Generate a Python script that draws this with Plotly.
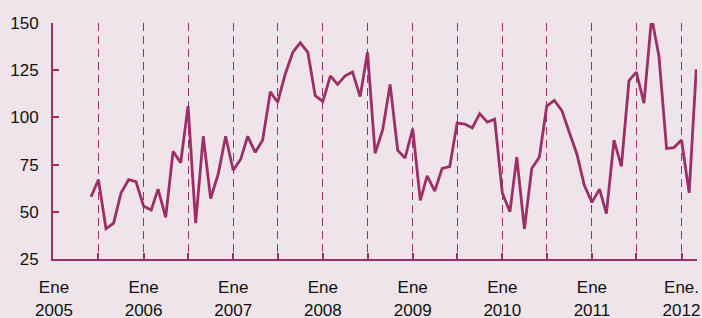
import plotly.graph_objects as go
import pandas as pd

# Monthly index values, June 2005 .. March 2012
start_month = "2005-06-01"
values = [
    58, 67, 41, 44, 60, 67, 66, 53, 51, 62, 47, 82, 76, 106,
    44, 90, 57, 70, 90, 72, 78, 90, 81.5, 88, 113.5, 108, 123, 134.5,
    139.5, 134.5, 111.5, 108.5, 122, 117.5, 122, 124, 111, 134.5, 81, 93.5, 117.5,
    82.5, 78.5, 94, 56, 69, 61, 73, 74, 97, 96.5, 94.5, 102, 97.5, 99,
    60, 50, 79, 41, 73, 79, 106, 109, 103.5, 92, 80.5, 64, 55, 62,
    49, 88, 74, 119.5, 124, 107.5, 153, 132.5, 83.5, 84, 88, 60, 125.5,
]
dates = pd.date_range(start_month, periods=len(values), freq="MS")

tick_dates = pd.date_range("2005-01-01", "2012-01-01", freq="6MS")
tick_labels = ["Ene<br>2005", "", "Ene<br>2006", "", "Ene<br>2007", "", "Ene<br>2008", "",
               "Ene<br>2009", "", "Ene<br>2010", "", "Ene<br>2011", "", "Ene.<br>2012"]
y_ticks = [25, 50, 75, 100, 125, 150]

bg = "#EEE4EA"
accent = "#9C2F67"

fig = go.Figure()
fig.add_trace(go.Scatter(x=dates, y=values, mode="lines",
                         line=dict(color=accent, width=2.8), hoverinfo="skip"))

fig.update_layout(
    width=702, height=318,
    margin=dict(l=53, r=5, t=23, b=59, autoexpand=False),
    paper_bgcolor=bg, plot_bgcolor=bg,
    showlegend=False,
    font=dict(family="Liberation Sans, Arial, sans-serif", size=17, color="#111111"),
)
fig.update_xaxes(
    type="date", automargin=False,
    range=["2004-12-28", "2012-03-04"],
    tickvals=tick_dates, ticktext=tick_labels,
    showline=True, linecolor=accent, linewidth=2,
    ticks="inside", ticklen=6, tickwidth=2, tickcolor=accent,
    showgrid=True, gridcolor=accent, gridwidth=1, griddash="8px,5px",
    zeroline=False, ticklabelstandoff=12,
)
fig.update_yaxes(
    range=[25, 150], tickvals=y_ticks, automargin=False,
    showline=True, linecolor=accent, linewidth=2,
    ticks="inside", ticklen=6, tickwidth=2, tickcolor=accent,
    showgrid=False, zeroline=False, ticklabelstandoff=9,
)

fig.write_html(
    "out.html",
    config={"displayModeBar": False},
    post_script="document.body.style.margin='0';document.body.style.background='" + bg + "';",
)
